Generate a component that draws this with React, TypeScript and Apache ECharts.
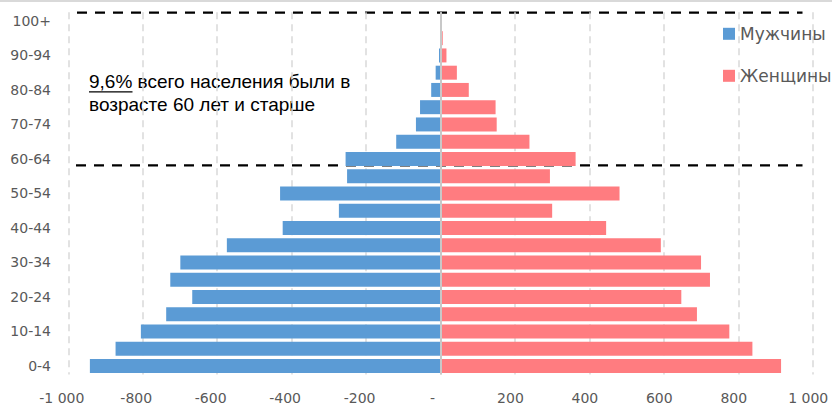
import React, { useEffect, useRef } from "react";
import * as echarts from "echarts";

const categories = [
  "0-4", "5-9", "10-14", "15-19", "20-24", "25-29", "30-34", "35-39", "40-44", "45-49",
  "50-54", "55-59", "60-64", "65-69", "70-74", "75-79", "80-84", "85-89", "90-94", "95-99", "100+",
];
const menValues = [942, 873, 805, 737, 667, 726, 699, 574, 424, 273, 431, 251, 255, 119, 66, 55, 25, 13, 4, 1, 0];
const womenValues = [915, 838, 776, 689, 647, 724, 700, 592, 445, 300, 481, 294, 363, 239, 151, 148, 76, 44, 16, 6, 1];
const xTicks = { min: -1000, max: 1000, interval: 200 };
const seriesNames = ["Мужчины", "Женщины"];
const noteLine1Lead = "9,6%";
const noteLine1Rest = " всего населения были в";
const noteLine2 = "возрасте 60 лет и старше";

const AXIS_FONT = '"DejaVu Sans", sans-serif';
const TEXT_FONT = '"Liberation Sans", Arial, sans-serif';

function fmtX(v: number): string {
  if (v === 0) return "{z|-}";
  const s = String(Math.abs(v)).replace(/\B(?=(\d{3})+(?!\d))/g, " ");
  return v < 0 ? "{n|-" + s + "}" : "{p|" + s + "}";
}

export default function App() {
  const ref = useRef<HTMLDivElement>(null);
  useEffect(() => {
    if (!ref.current) return;
    const chart = echarts.init(ref.current, null, { renderer: "svg" });
    const labelStyle = { color: "#595959", fontSize: 14, fontFamily: AXIS_FONT };
    chart.setOption({
      animation: false,
      backgroundColor: "#fff",
      grid: { left: 68.3, right: 19.3, top: 12.3, bottom: 30.4 },
      xAxis: {
        type: "value",
        min: xTicks.min,
        max: xTicks.max,
        interval: xTicks.interval,
        axisLine: { show: false },
        axisTick: { show: false },
        splitLine: { show: true, lineStyle: { color: "#D9D9D9", type: [7, 5], width: 1.5 } },
        axisLabel: {
          ...labelStyle,
          margin: 16,
          formatter: fmtX,
          rich: {
            z: { ...labelStyle, padding: [0, 16, 0, 0] },
            n: { ...labelStyle, padding: [0, 13, 0, 0] },
            p: { ...labelStyle, padding: [0, 9, 0, 0] },
          },
        },
      },
      yAxis: {
        type: "category",
        data: categories,
        axisLine: { show: false },
        axisTick: { show: false },
        splitLine: { show: false },
        axisLabel: { ...labelStyle, interval: 1, margin: 17.3 },
      },
      legend: {
        orient: "vertical",
        left: 723,
        top: 25.3,
        padding: 0,
        itemWidth: 12,
        itemHeight: 12,
        itemGap: 25,
        icon: "rect",
        data: seriesNames,
        textStyle: { color: "#595959", fontSize: 17, fontFamily: AXIS_FONT },
      },
      series: [
        {
          name: seriesNames[0],
          type: "bar",
          stack: "pop",
          barCategoryGap: "19%",
          data: menValues.map((v) => -v),
          itemStyle: { color: "#5B9BD5" },
          markLine: {
            silent: true,
            symbol: "none",
            label: { show: false },
            lineStyle: { color: "#C8C8C8", width: 2, type: "solid" },
            data: [{ xAxis: 0 }],
          },
        },
        {
          name: seriesNames[1],
          type: "bar",
          stack: "pop",
          barCategoryGap: "19%",
          data: womenValues,
          itemStyle: { color: "#FF7C80" },
        },
      ],
      graphic: [
        { type: "rect", left: 0, top: 0, shape: { width: 832, height: 2 }, style: { fill: "#D9D9D9" }, silent: true },
        {
          type: "text",
          x: 89,
          y: 69.8,
          style: {
            text: "{u|" + noteLine1Lead + "}" + noteLine1Rest + "\n" + noteLine2,
            font: "19px " + TEXT_FONT,
            lineHeight: 23,
            fill: "#000",
            rich: { u: { font: "19px " + TEXT_FONT, fill: "#000", lineHeight: 23 } },
          },
        },
        {
          type: "line",
          shape: { x1: 89, y1: 91.8, x2: 132.5, y2: 91.8 },
          style: { stroke: "#000", lineWidth: 1.3 },
        },
        {
          type: "line",
          shape: { x1: 77, y1: 12.7, x2: 802.5, y2: 12.7 },
          style: { stroke: "#000", lineWidth: 2.3, lineDash: [10, 8] },
        },
        {
          type: "line",
          shape: { x1: 76, y1: 165.3, x2: 802.5, y2: 165.3 },
          style: { stroke: "#000", lineWidth: 2.3, lineDash: [10, 8] },
        },
      ],
    });
    return () => chart.dispose();
  }, []);
  return (
    <div
      ref={ref}
      style={{ position: "absolute", left: 0, top: 0, width: 832, height: 405, background: "#fff" }}
    />
  );
}
